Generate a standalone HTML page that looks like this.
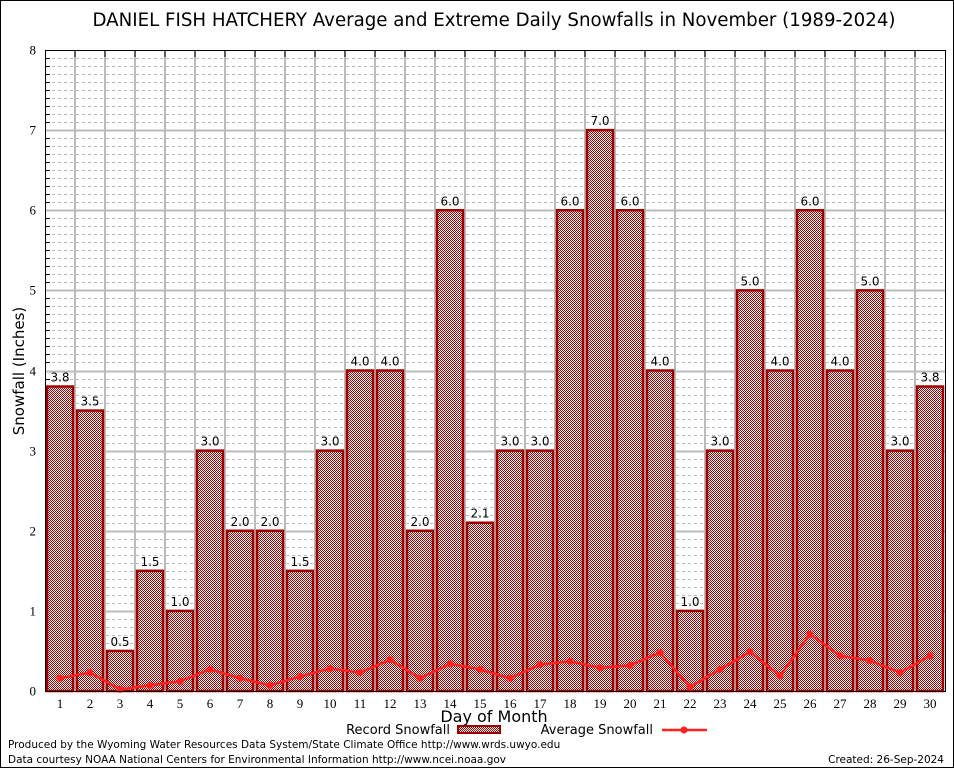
<!DOCTYPE html>
<html><head><meta charset="utf-8"><style>
body{margin:0;background:#fff}
svg{display:block;font-family:"DejaVu Sans","Liberation Sans",sans-serif}
</style></head><body>
<svg id="c" width="954" height="768" viewBox="0 0 954 768">
<defs>
<pattern id="chk" width="2" height="2" patternUnits="userSpaceOnUse">
<rect width="2" height="2" fill="#fff" shape-rendering="crispEdges"/><rect width="1" height="1" fill="#a00000" shape-rendering="crispEdges"/><rect x="1" y="1" width="1" height="1" fill="#a00000" shape-rendering="crispEdges"/>
</pattern>
</defs>
<rect x="0.5" y="0.5" width="953" height="767" fill="#fff" stroke="#000"/>
<text x="494" y="26" font-size="18.2" text-anchor="middle">DANIEL FISH HATCHERY Average and Extreme Daily Snowfalls in November (1989-2024)</text>
<g id="grid"></g>
<g id="bars"></g>
<g id="avg"></g>
<rect x="45.5" y="50.5" width="900" height="641" fill="none" stroke="#000"/>
<g id="axes" font-family="'Liberation Serif',serif" font-size="13"></g>
<text transform="translate(24,371) rotate(-90)" font-size="15" text-anchor="middle">Snowfall (Inches)</text>
<text x="494" y="722" font-size="16" text-anchor="middle">Day of Month</text>
<g>
<text x="450" y="734" font-size="13" text-anchor="end">Record Snowfall</text>
<rect x="458" y="726" width="42" height="7" fill="url(#chk)" stroke="#a00000" stroke-width="2"/>
</g>
<g>
<text x="653" y="734" font-size="13" text-anchor="end">Average Snowfall</text>
<line x1="662" y1="730" x2="707" y2="730" stroke="#ff2020" stroke-width="2.5"/>
<circle cx="684" cy="730" r="3.5" fill="#ff2020"/>
</g>
<text x="8" y="748" font-size="10.5">Produced by the Wyoming Water Resources Data System/State Climate Office http://www.wrds.uwyo.edu</text>
<text x="8" y="763" font-size="10.5">Data courtesy NOAA National Centers for Environmental Information http://www.ncei.noaa.gov</text>
<text x="944" y="763" font-size="10.5" text-anchor="end">Created: 26-Sep-2024</text>
</svg>
<script>
const days=[1,2,3,4,5,6,7,8,9,10,11,12,13,14,15,16,17,18,19,20,21,22,23,24,25,26,27,28,29,30];
const records=[3.8,3.5,0.5,1.5,1.0,3.0,2.0,2.0,1.5,3.0,4.0,4.0,2.0,6.0,2.1,3.0,3.0,6.0,7.0,6.0,4.0,1.0,3.0,5.0,4.0,6.0,4.0,5.0,3.0,3.8];
const averages=[0.16,0.23,0.02,0.07,0.12,0.27,0.16,0.07,0.18,0.28,0.23,0.39,0.16,0.34,0.27,0.16,0.33,0.37,0.29,0.32,0.48,0.05,0.27,0.49,0.19,0.71,0.44,0.38,0.23,0.44];
const yTicks=[0,1,2,3,4,5,6,7,8];
const NS="http://www.w3.org/2000/svg";
const x=d=>45+30*(d-0.5);
const y=v=>691-v*80.125;
function mk(t,a,p){const e=document.createElementNS(NS,t);for(const k in a)e.setAttribute(k,a[k]);p.appendChild(e);return e;}
const grid=document.getElementById('grid'),bars=document.getElementById('bars'),avg=document.getElementById('avg'),axes=document.getElementById('axes');
for(let i=1;i<80;i++){if(i%10==0)continue;const gy=Math.round(y(i/10))+0.5;
const l=mk('line',{x1:46,x2:945,y1:gy,y2:gy,stroke:'#bbb','stroke-dasharray':'3,3'},grid);


mk('line',{x1:46,x2:50,y1:gy,y2:gy,stroke:'#000'},grid);}
yTicks.forEach(v=>{const gy=Math.round(y(v))+0.5;
if(v>0&&v<8){const l=mk('line',{x1:46,x2:945,y1:gy,y2:gy,stroke:'#bbb','stroke-width':2},grid);

}
const t=mk('text',{x:36,y:gy+4,'text-anchor':'end'},axes);t.textContent=v;

});
for(let d=1;d<30;d++){const gx=x(d)+15;
const l=mk('line',{x1:gx,x2:gx,y1:51,y2:691,stroke:'#bbb','stroke-width':2},grid);


mk('line',{x1:gx,x2:gx,y1:51,y2:57,stroke:'#000'},grid);}
days.forEach((d,i)=>{const v=records[i],top=y(v);
const r=mk('rect',{x:x(d)-13,y:top,width:26,height:691-top,fill:'url(#chk)',stroke:'#a00000','stroke-width':2.5},bars);


const t=mk('text',{x:x(d),y:top-5,'text-anchor':'middle','font-size':12},bars);t.textContent=v.toFixed(1);


const tl=mk('text',{x:x(d),y:708,'text-anchor':'middle'},axes);tl.textContent=d;

});
const pts=days.map((d,i)=>x(d)+','+y(averages[i])).join(' ');
const pl=mk('polyline',{points:pts,fill:'none',stroke:'#ff2020','stroke-width':2.5},avg);


days.forEach((d,i)=>{const c=mk('circle',{cx:x(d),cy:y(averages[i]),r:3.5,fill:'#ff2020'},avg);

});
</script>
</body></html>
